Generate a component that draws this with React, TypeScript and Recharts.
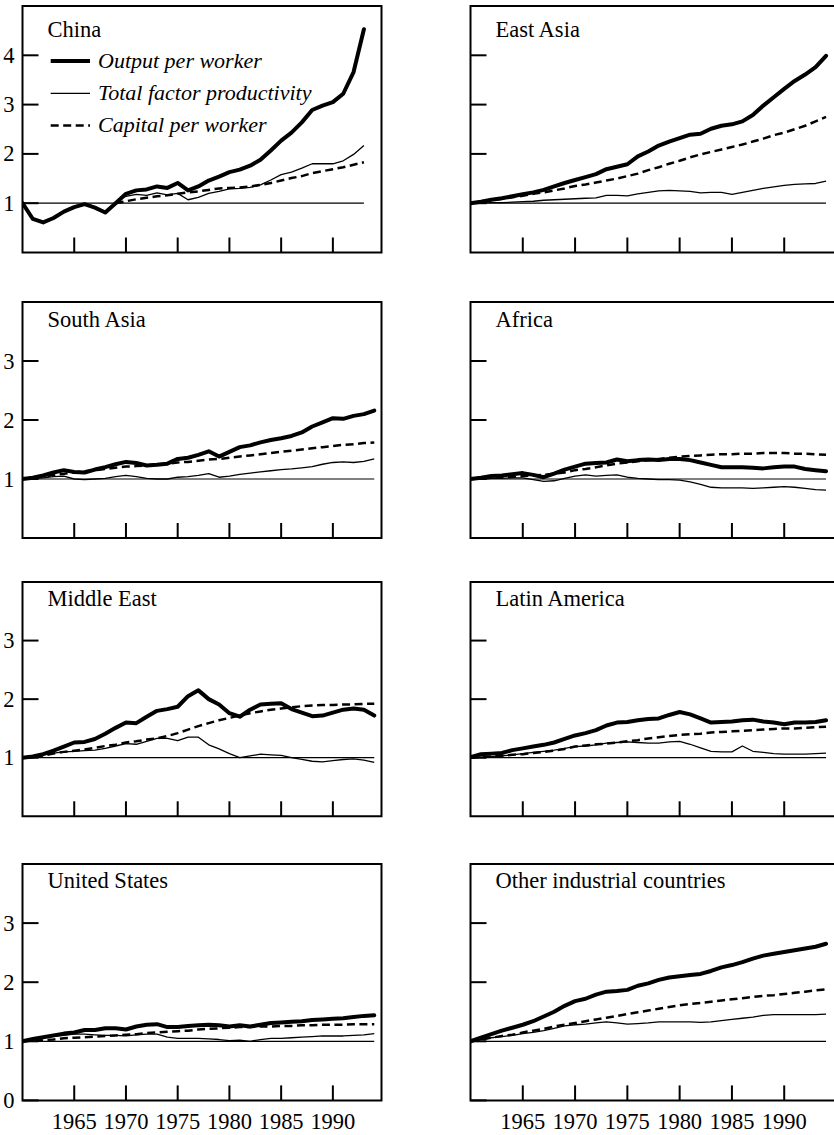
import React from 'react';
import { LineChart, Line, XAxis, YAxis, ReferenceLine, ReferenceArea, Legend } from 'recharts';

// ---------- data ----------
const years = [1960, 1961, 1962, 1963, 1964, 1965, 1966, 1967, 1968, 1969, 1970, 1971, 1972, 1973, 1974, 1975, 1976, 1977, 1978, 1979, 1980, 1981, 1982, 1983, 1984, 1985, 1986, 1987, 1988, 1989, 1990, 1991, 1992, 1993, 1994];
const xTickYears = [1965, 1970, 1975, 1980, 1985, 1990];
const seriesNames = ['Output per worker', 'Total factor productivity', 'Capital per worker'];
const panelTitles = ['China', 'East Asia', 'South Asia', 'Africa', 'Middle East', 'Latin America', 'United States', 'Other industrial countries'];

const chinaOutput = [1.00, 0.68, 0.61, 0.70, 0.83, 0.92, 0.98, 0.91, 0.81, 1.00, 1.19, 1.26, 1.28, 1.34, 1.31, 1.41, 1.26, 1.34, 1.46, 1.54, 1.63, 1.68, 1.76, 1.88, 2.07, 2.27, 2.43, 2.64, 2.89, 2.98, 3.05, 3.22, 3.66, 4.53];
const chinaTfp = [null, null, null, null, null, null, null, null, null, 1.03, 1.14, 1.18, 1.16, 1.21, 1.17, 1.20, 1.07, 1.12, 1.20, 1.24, 1.29, 1.30, 1.32, 1.37, 1.47, 1.58, 1.63, 1.71, 1.80, 1.80, 1.80, 1.86, 1.99, 2.17];
const chinaCapital = [null, null, null, null, null, null, null, null, null, 1.00, 1.04, 1.08, 1.11, 1.14, 1.16, 1.19, 1.22, 1.24, 1.27, 1.30, 1.31, 1.32, 1.34, 1.37, 1.41, 1.46, 1.51, 1.55, 1.61, 1.65, 1.69, 1.73, 1.78, 1.83];

const eastAsiaOutput = [1.00, 1.03, 1.07, 1.10, 1.14, 1.18, 1.22, 1.27, 1.34, 1.41, 1.47, 1.53, 1.59, 1.69, 1.74, 1.79, 1.95, 2.05, 2.17, 2.25, 2.32, 2.39, 2.41, 2.51, 2.57, 2.60, 2.66, 2.79, 2.98, 3.15, 3.32, 3.48, 3.61, 3.76, 3.99];
const eastAsiaTfp = [1.00, 1.00, 1.01, 1.01, 1.02, 1.03, 1.04, 1.06, 1.07, 1.08, 1.09, 1.10, 1.11, 1.16, 1.16, 1.15, 1.19, 1.22, 1.25, 1.26, 1.25, 1.24, 1.21, 1.22, 1.22, 1.18, 1.22, 1.26, 1.30, 1.33, 1.36, 1.38, 1.39, 1.40, 1.45];
const eastAsiaCapital = [1.00, 1.03, 1.06, 1.09, 1.12, 1.15, 1.19, 1.22, 1.26, 1.30, 1.35, 1.38, 1.42, 1.46, 1.50, 1.55, 1.60, 1.67, 1.73, 1.80, 1.86, 1.93, 1.99, 2.04, 2.09, 2.14, 2.19, 2.25, 2.31, 2.38, 2.43, 2.50, 2.57, 2.66, 2.75];

const southAsiaOutput = [1.00, 1.02, 1.06, 1.11, 1.15, 1.12, 1.11, 1.16, 1.20, 1.25, 1.29, 1.27, 1.23, 1.24, 1.26, 1.34, 1.36, 1.41, 1.47, 1.38, 1.46, 1.54, 1.57, 1.62, 1.66, 1.69, 1.73, 1.79, 1.89, 1.96, 2.03, 2.02, 2.07, 2.10, 2.16];
const southAsiaTfp = [1.00, 1.01, 1.02, 1.04, 1.05, 1.00, 0.99, 1.00, 1.01, 1.04, 1.06, 1.04, 1.01, 1.00, 1.00, 1.03, 1.04, 1.06, 1.09, 1.03, 1.05, 1.08, 1.10, 1.12, 1.14, 1.16, 1.17, 1.19, 1.21, 1.25, 1.28, 1.29, 1.28, 1.30, 1.34];
const southAsiaCapital = [1.00, 1.02, 1.04, 1.07, 1.09, 1.11, 1.13, 1.15, 1.17, 1.19, 1.21, 1.22, 1.23, 1.25, 1.26, 1.28, 1.29, 1.31, 1.33, 1.34, 1.36, 1.38, 1.40, 1.42, 1.44, 1.46, 1.48, 1.50, 1.52, 1.54, 1.56, 1.58, 1.59, 1.61, 1.62];

const africaOutput = [1.00, 1.02, 1.05, 1.06, 1.08, 1.10, 1.07, 1.03, 1.09, 1.16, 1.21, 1.26, 1.27, 1.28, 1.33, 1.30, 1.32, 1.33, 1.32, 1.34, 1.34, 1.32, 1.28, 1.24, 1.20, 1.20, 1.20, 1.19, 1.18, 1.20, 1.21, 1.21, 1.17, 1.15, 1.13];
const africaTfp = [1.00, 1.00, 1.01, 1.01, 1.02, 1.02, 0.99, 0.96, 0.97, 1.01, 1.05, 1.07, 1.05, 1.06, 1.07, 1.03, 1.01, 1.00, 0.99, 0.99, 0.98, 0.95, 0.91, 0.86, 0.85, 0.85, 0.85, 0.84, 0.85, 0.86, 0.87, 0.86, 0.84, 0.82, 0.81];
const africaCapital = [1.00, 1.01, 1.02, 1.03, 1.04, 1.05, 1.06, 1.07, 1.09, 1.11, 1.15, 1.17, 1.20, 1.23, 1.26, 1.28, 1.30, 1.32, 1.34, 1.36, 1.38, 1.39, 1.40, 1.41, 1.42, 1.42, 1.43, 1.43, 1.44, 1.44, 1.44, 1.43, 1.43, 1.42, 1.41];

const middleEastOutput = [1.00, 1.02, 1.06, 1.12, 1.19, 1.26, 1.27, 1.32, 1.41, 1.51, 1.60, 1.59, 1.70, 1.80, 1.83, 1.87, 2.05, 2.15, 2.00, 1.91, 1.76, 1.70, 1.82, 1.91, 1.92, 1.93, 1.83, 1.77, 1.71, 1.72, 1.77, 1.82, 1.84, 1.82, 1.72];
const middleEastTfp = [1.00, 1.02, 1.05, 1.08, 1.10, 1.11, 1.12, 1.13, 1.16, 1.20, 1.24, 1.23, 1.28, 1.33, 1.33, 1.29, 1.35, 1.35, 1.22, 1.15, 1.07, 1.00, 1.03, 1.06, 1.05, 1.04, 1.00, 0.97, 0.94, 0.93, 0.95, 0.97, 0.98, 0.96, 0.92];
const middleEastCapital = [1.00, 1.02, 1.04, 1.07, 1.10, 1.12, 1.14, 1.17, 1.20, 1.22, 1.26, 1.28, 1.31, 1.33, 1.37, 1.42, 1.48, 1.54, 1.59, 1.64, 1.68, 1.72, 1.76, 1.79, 1.82, 1.84, 1.86, 1.88, 1.89, 1.90, 1.90, 1.91, 1.91, 1.92, 1.92];

const latinAmericaOutput = [1.01, 1.06, 1.07, 1.08, 1.13, 1.16, 1.19, 1.22, 1.26, 1.32, 1.38, 1.42, 1.47, 1.55, 1.60, 1.61, 1.64, 1.66, 1.67, 1.73, 1.78, 1.74, 1.67, 1.60, 1.61, 1.62, 1.64, 1.65, 1.62, 1.60, 1.57, 1.60, 1.60, 1.61, 1.64];
const latinAmericaTfp = [1.00, 1.01, 1.02, 1.03, 1.05, 1.07, 1.09, 1.11, 1.13, 1.16, 1.19, 1.20, 1.22, 1.25, 1.26, 1.27, 1.26, 1.25, 1.25, 1.27, 1.28, 1.23, 1.17, 1.11, 1.10, 1.10, 1.20, 1.11, 1.09, 1.07, 1.06, 1.06, 1.06, 1.07, 1.08];
const latinAmericaCapital = [1.00, 1.01, 1.02, 1.03, 1.05, 1.06, 1.08, 1.10, 1.12, 1.15, 1.19, 1.21, 1.23, 1.24, 1.26, 1.28, 1.30, 1.33, 1.35, 1.37, 1.39, 1.40, 1.41, 1.43, 1.44, 1.45, 1.46, 1.47, 1.48, 1.49, 1.50, 1.50, 1.51, 1.52, 1.53];

const usOutput = [1.00, 1.04, 1.07, 1.10, 1.13, 1.15, 1.19, 1.19, 1.22, 1.22, 1.20, 1.25, 1.28, 1.29, 1.24, 1.24, 1.26, 1.27, 1.28, 1.27, 1.25, 1.27, 1.25, 1.28, 1.31, 1.32, 1.33, 1.34, 1.36, 1.37, 1.38, 1.39, 1.41, 1.43, 1.44];
const usTfp = [1.00, 1.03, 1.06, 1.08, 1.10, 1.12, 1.12, 1.11, 1.10, 1.10, 1.09, 1.11, 1.12, 1.12, 1.07, 1.05, 1.05, 1.05, 1.04, 1.03, 1.01, 1.02, 1.00, 1.03, 1.05, 1.05, 1.06, 1.07, 1.08, 1.09, 1.09, 1.09, 1.10, 1.11, 1.13];
const usCapital = [1.00, 1.01, 1.02, 1.03, 1.05, 1.06, 1.07, 1.08, 1.09, 1.10, 1.11, 1.12, 1.14, 1.15, 1.16, 1.17, 1.18, 1.20, 1.21, 1.22, 1.23, 1.24, 1.24, 1.25, 1.25, 1.26, 1.26, 1.27, 1.27, 1.28, 1.28, 1.28, 1.29, 1.29, 1.29];

const otherOutput = [1.00, 1.06, 1.12, 1.18, 1.23, 1.28, 1.34, 1.42, 1.50, 1.60, 1.68, 1.72, 1.79, 1.84, 1.85, 1.87, 1.94, 1.98, 2.04, 2.08, 2.10, 2.12, 2.14, 2.19, 2.25, 2.29, 2.34, 2.40, 2.45, 2.48, 2.51, 2.54, 2.57, 2.60, 2.65];
const otherTfp = [1.00, 1.03, 1.06, 1.08, 1.10, 1.13, 1.15, 1.18, 1.22, 1.26, 1.28, 1.29, 1.31, 1.33, 1.31, 1.29, 1.30, 1.31, 1.33, 1.33, 1.33, 1.33, 1.32, 1.33, 1.35, 1.37, 1.39, 1.41, 1.44, 1.45, 1.45, 1.45, 1.45, 1.45, 1.46];
const otherCapital = [1.00, 1.03, 1.06, 1.09, 1.11, 1.15, 1.18, 1.21, 1.25, 1.28, 1.31, 1.34, 1.37, 1.40, 1.43, 1.46, 1.49, 1.52, 1.55, 1.58, 1.61, 1.63, 1.65, 1.67, 1.69, 1.71, 1.73, 1.75, 1.77, 1.78, 1.80, 1.82, 1.84, 1.86, 1.88];

// ---------- helpers ----------
const FONT = '"Liberation Serif", "Times New Roman", Times, serif';
const INK = '#000';

type Row = { year: number; output: number | null; tfp: number | null; capital: number | null };
function buildRows(out: (number | null)[], tfp: (number | null)[], cap: (number | null)[]): Row[] {
  return out.map((v, i) => ({ year: years[i], output: v, tfp: tfp[i], capital: cap[i] }));
}

const panelSeries = [
  [chinaOutput, chinaTfp, chinaCapital],
  [eastAsiaOutput, eastAsiaTfp, eastAsiaCapital],
  [southAsiaOutput, southAsiaTfp, southAsiaCapital],
  [africaOutput, africaTfp, africaCapital],
  [middleEastOutput, middleEastTfp, middleEastCapital],
  [latinAmericaOutput, latinAmericaTfp, latinAmericaCapital],
  [usOutput, usTfp, usCapital],
  [otherOutput, otherTfp, otherCapital],
];

// layout
const COLS = [
  { plotLeft: 22.5, plotWidth: 359, xMax: 1994.7, titleX: 47.5 },
  { plotLeft: 470.5, plotWidth: 366, xMax: 1995, titleX: 495.5 },
];
const ROWS = [
  { plotTop: 5.5, plotHeight: 246.5, yMax: 5, yTicks: [1, 2, 3, 4], titleY: 36.5 },
  { plotTop: 302.3, plotHeight: 236, yMax: 4, yTicks: [1, 2, 3], titleY: 327 },
  { plotTop: 582.3, plotHeight: 234.3, yMax: 4, yTicks: [1, 2, 3], titleY: 606 },
  { plotTop: 864.3, plotHeight: 236.4, yMax: 4, yTicks: [0, 1, 2, 3], titleY: 888.3 },
];
const YW = 22.5;
const MT = 4;
const XH = 36;

const lineStyles: Record<string, { w: number; dash?: string }> = {
  output: { w: 4 },
  tfp: { w: 1.3 },
  capital: { w: 2.5, dash: '8 4.5' },
};
const legendOrder = ['output', 'tfp', 'capital'];

function makeXTick(showLabel: boolean) {
  return (props: any) => {
    const { x, y, payload } = props;
    return (
      <g>
        <line x1={x} x2={x} y1={y} y2={y - 15} stroke={INK} strokeWidth={2} />
        {showLabel && (
          <text x={x} y={y + 29} textAnchor="middle" fontFamily={FONT} fontSize={22.5} fill={INK}>
            {payload.value}
          </text>
        )}
      </g>
    );
  };
}

function makeYTick(showLabel: boolean) {
  return (props: any) => {
    const { x, y, payload } = props;
    return (
      <g>
        <line x1={x + 8} x2={x + 24} y1={y} y2={y} stroke={INK} strokeWidth={2} />
        {showLabel && (
          <text x={x} y={y + 7.5} textAnchor="end" fontFamily={FONT} fontSize={22.5} fill={INK}>
            {payload.value}
          </text>
        )}
      </g>
    );
  };
}

function renderLegend(props: any) {
  const payload = (props.payload || []).slice().sort(
    (a: any, b: any) => legendOrder.indexOf(a.dataKey) - legendOrder.indexOf(b.dataKey)
  );
  return (
    <svg width={300} height={100} style={{ overflow: 'visible' }}>
      {payload.map((entry: any, i: number) => {
        const st = lineStyles[entry.dataKey];
        const ly = 16 + i * 32.3;
        return (
          <g key={entry.dataKey}>
            <line x1={0.7} x2={40} y1={ly} y2={ly} stroke={INK} strokeWidth={st.w} strokeDasharray={st.dash} />
            <text x={48} y={ly + 6.5} fontFamily={FONT} fontStyle="italic" fontSize={22} fill={INK}>
              {entry.value}
            </text>
          </g>
        );
      })}
    </svg>
  );
}

function Panel({ index }: { index: number }) {
  const col = COLS[index % 2];
  const row = ROWS[Math.floor(index / 2)];
  const [out, tfp, cap] = panelSeries[index];
  const data = buildRows(out, tfp, cap);
  const lastYear = years[out.length - 1];
  const isLeft = index % 2 === 0;
  const isBottom = Math.floor(index / 2) === 3;
  const width = YW + col.plotWidth + 2;
  const height = MT + row.plotHeight + XH;
  const chartLeft = col.plotLeft - YW;
  const chartTop = row.plotTop - MT;
  return (
    <div style={{ position: 'absolute', left: chartLeft, top: chartTop }}>
      <LineChart width={width} height={height} data={data} margin={{ top: MT, right: 2, bottom: 0, left: 0 }}>
        <XAxis
          dataKey="year"
          type="number"
          domain={[1960, col.xMax]}
          allowDataOverflow
          ticks={xTickYears}
          interval={0}
          tickSize={0}
          tickMargin={0}
          axisLine={false}
          tickLine={false}
          height={XH}
          tick={makeXTick(isBottom)}
        />
        <YAxis
          type="number"
          domain={[0, row.yMax]}
          allowDataOverflow
          ticks={row.yTicks}
          interval={0}
          width={YW}
          tickSize={0}
          tickMargin={8}
          axisLine={false}
          tickLine={false}
          tick={makeYTick(isLeft)}
        />
        <ReferenceArea x1={1960} x2={col.xMax} y1={0} y2={row.yMax} fill="none" fillOpacity={0} stroke={INK} strokeWidth={2} />
        <ReferenceLine segment={[{ x: 1960, y: 1 }, { x: lastYear, y: 1 }]} stroke={INK} strokeWidth={1.2} />
        <Line name={seriesNames[2]} dataKey="capital" type="linear" stroke={INK} strokeWidth={lineStyles.capital.w} strokeDasharray={lineStyles.capital.dash} dot={false} activeDot={false} isAnimationActive={false} connectNulls={false} />
        <Line name={seriesNames[1]} dataKey="tfp" type="linear" stroke={INK} strokeWidth={lineStyles.tfp.w} dot={false} activeDot={false} isAnimationActive={false} strokeLinejoin="round" />
        <Line name={seriesNames[0]} dataKey="output" type="linear" stroke={INK} strokeWidth={lineStyles.output.w} dot={false} activeDot={false} isAnimationActive={false} strokeLinejoin="round" strokeLinecap="round" />
        {index === 0 && (
          <Legend
            layout="horizontal"
            verticalAlign="middle"
            align="center"
            content={renderLegend}
            wrapperStyle={{ left: 50 - chartLeft, top: 45 - chartTop, width: 300, height: 100 }}
          />
        )}
      </LineChart>
    </div>
  );
}

export default function App() {
  return (
    <div style={{ position: 'absolute', left: 0, top: 0, width: 834, height: 1135, overflow: 'hidden', background: '#fff' }}>
      {panelTitles.map((_, i) => (
        <Panel key={i} index={i} />
      ))}
      <svg width={834} height={1135} style={{ position: 'absolute', left: 0, top: 0, pointerEvents: 'none' }}>
        {panelTitles.map((t, i) => (
          <text key={t} x={COLS[i % 2].titleX} y={ROWS[Math.floor(i / 2)].titleY} fontFamily={FONT} fontSize={22.5} fill={INK}>
            {t}
          </text>
        ))}
      </svg>
    </div>
  );
}
